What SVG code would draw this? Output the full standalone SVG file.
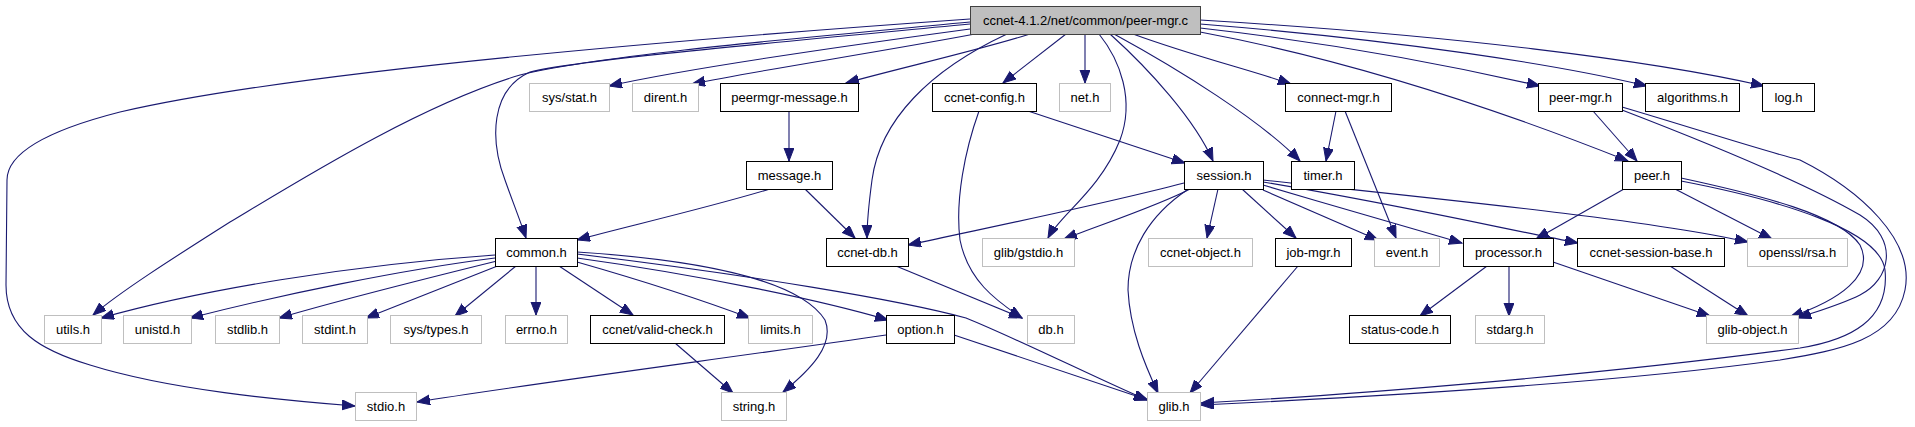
<svg xmlns="http://www.w3.org/2000/svg" width="1915" height="427" viewBox="0 0 1915 427">
<style>
rect{fill:#fff;stroke-width:1}
.d rect{stroke:#000}
.u rect{stroke:#bfbfbf}
.m rect{fill:#bfbfbf;stroke:#404040}
text{font-family:"Liberation Sans",Arial,sans-serif;font-size:13px;fill:#000;text-anchor:middle}
#edges path{fill:none;stroke:#191970;stroke-width:1.1;marker-end:url(#arr)}
</style>
<defs>
<marker id="arr" markerUnits="userSpaceOnUse" markerWidth="14" markerHeight="11" refX="13" refY="5" orient="auto">
<path d="M0,0 L13,5 L0,10 z" fill="#191970" stroke="#191970" stroke-width="1"/>
</marker>
</defs>
<rect x="0" y="0" width="1915" height="427" style="fill:#fff;stroke:none"/>
<g id="edges">
<path d="M970,19 C700,38 300,70 120,112 C30,135 7,160 7,180 L6,285 C6,330 40,350 90,365 C170,390 280,400 355,406"/>
<path d="M970,22 C800,38 600,55 520,75 C420,105 300,180 230,222 C170,260 120,292 93,315"/>
<path d="M970,24 C750,45 580,60 530,72 C490,90 490,140 505,180 C512,200 520,220 526,238"/>
<path d="M970,29 C800,52 680,70 609,86"/>
<path d="M975,34 C880,52 760,70 692,84"/>
<path d="M1030,34 C980,50 900,68 846,83"/>
<path d="M1007,34 C930,70 880,120 872,180 C868,210 867,225 867,238"/>
<path d="M1066,34 L1003,83"/>
<path d="M1085,34 L1085,83"/>
<path d="M1099,34 C1120,60 1135,100 1120,140 C1100,190 1060,215 1048,238"/>
<path d="M1110,34 C1150,70 1195,120 1213,161"/>
<path d="M1114,34 C1180,70 1260,120 1300,161"/>
<path d="M1133,34 C1190,55 1250,70 1291,84"/>
<path d="M1200,32 C1350,60 1500,110 1628,161"/>
<path d="M1200,28 C1350,45 1470,70 1540,86"/>
<path d="M1200,24 C1400,40 1560,65 1647,86"/>
<path d="M1200,20 C1450,35 1650,60 1764,86"/>
<path d="M789,111 L789,161"/>
<path d="M770,189 C700,210 620,228 577,240"/>
<path d="M805,189 L855,238"/>
<path d="M1028,111 L1185,163"/>
<path d="M979,111 C965,150 955,200 960,240 C968,280 995,300 1022,318"/>
<path d="M1336,111 L1326,161"/>
<path d="M1345,111 L1396,238"/>
<path d="M1593,111 L1637,161"/>
<path d="M1622,110 C1700,140 1800,180 1860,215 C1900,240 1890,280 1860,295 C1840,305 1815,312 1798,318"/>
<path d="M1622,107 C1700,130 1760,150 1800,160 C1860,190 1915,240 1905,290 C1895,340 1840,350 1780,360 C1600,385 1350,398 1201,405"/>
<path d="M1624,189 L1536,239"/>
<path d="M1675,189 L1772,239"/>
<path d="M1681,178 C1760,195 1840,215 1860,245 C1875,275 1840,300 1790,317"/>
<path d="M1681,181 C1780,200 1880,230 1885,270 C1890,320 1850,340 1800,348 C1600,375 1350,395 1201,403"/>
<path d="M1184,183 C1100,205 1000,225 908,245"/>
<path d="M1190,189 C1160,205 1100,225 1064,239"/>
<path d="M1187,190 C1150,215 1128,250 1128,290 C1130,330 1145,365 1158,393"/>
<path d="M1218,189 L1207,238"/>
<path d="M1242,189 L1296,238"/>
<path d="M1263,190 L1378,240"/>
<path d="M1263,185 C1330,205 1400,225 1462,243"/>
<path d="M1263,182 C1400,205 1500,228 1578,243"/>
<path d="M1263,180 C1450,200 1650,220 1748,242"/>
<path d="M495,255 C350,265 200,290 101,318"/>
<path d="M495,258 C400,270 280,295 190,318"/>
<path d="M497,261 C420,280 340,300 279,318"/>
<path d="M500,265 L366,318"/>
<path d="M516,266 L455,316"/>
<path d="M536,266 L536,315"/>
<path d="M559,266 L633,315"/>
<path d="M577,262 C640,280 710,303 750,318"/>
<path d="M577,258 C700,275 820,300 888,320"/>
<path d="M577,254 C750,275 900,300 966,318 C1020,340 1100,380 1147,400"/>
<path d="M577,252 C700,260 800,280 825,320 C835,345 810,370 783,392"/>
<path d="M896,266 L1022,318"/>
<path d="M1298,266 L1190,393"/>
<path d="M1487,266 L1420,316"/>
<path d="M1509,266 L1509,316"/>
<path d="M1553,262 L1710,316"/>
<path d="M1670,266 L1748,316"/>
<path d="M675,343 L733,393"/>
<path d="M886,335 C750,355 520,385 417,402"/>
<path d="M954,335 L1148,400"/>
</g>
<g id="n-main" class="m"><rect x="970.5" y="6.5" width="230" height="28"/><text x="1085.5" y="25">ccnet-4.1.2/net/common/peer-mgr.c</text></g>
<g id="n-sysstat" class="u"><rect x="529.5" y="83.5" width="80" height="28"/><text x="569.5" y="102">sys/stat.h</text></g>
<g id="n-dirent" class="u"><rect x="632.5" y="83.5" width="66" height="28"/><text x="665.5" y="102">dirent.h</text></g>
<g id="n-peermgrmsg" class="d"><rect x="720.5" y="83.5" width="138" height="28"/><text x="789.5" y="102">peermgr-message.h</text></g>
<g id="n-ccnetconfig" class="d"><rect x="932.5" y="83.5" width="104" height="28"/><text x="984.5" y="102">ccnet-config.h</text></g>
<g id="n-net" class="u"><rect x="1059.5" y="83.5" width="51" height="28"/><text x="1085" y="102">net.h</text></g>
<g id="n-connectmgr" class="d"><rect x="1285.5" y="83.5" width="106" height="28"/><text x="1338.5" y="102">connect-mgr.h</text></g>
<g id="n-peermgr" class="d"><rect x="1538.5" y="83.5" width="84" height="28"/><text x="1580.5" y="102">peer-mgr.h</text></g>
<g id="n-algorithms" class="d"><rect x="1645.5" y="83.5" width="94" height="28"/><text x="1692.5" y="102">algorithms.h</text></g>
<g id="n-log" class="d"><rect x="1762.5" y="83.5" width="52" height="28"/><text x="1788.5" y="102">log.h</text></g>
<g id="n-message" class="d"><rect x="746.5" y="161.5" width="86" height="28"/><text x="789.5" y="180">message.h</text></g>
<g id="n-session" class="d"><rect x="1184.5" y="161.5" width="79" height="28"/><text x="1224" y="180">session.h</text></g>
<g id="n-timer" class="d"><rect x="1291.5" y="161.5" width="63" height="28"/><text x="1323" y="180">timer.h</text></g>
<g id="n-peer" class="d"><rect x="1622.5" y="161.5" width="59" height="28"/><text x="1652" y="180">peer.h</text></g>
<g id="n-common" class="d"><rect x="495.5" y="238.5" width="82" height="28"/><text x="536.5" y="257">common.h</text></g>
<g id="n-ccnetdb" class="d"><rect x="826.5" y="238.5" width="82" height="28"/><text x="867.5" y="257">ccnet-db.h</text></g>
<g id="n-gstdio" class="u"><rect x="982.5" y="238.5" width="92" height="28"/><text x="1028.5" y="257">glib/gstdio.h</text></g>
<g id="n-ccnetobject" class="u"><rect x="1148.5" y="238.5" width="104" height="28"/><text x="1200.5" y="257">ccnet-object.h</text></g>
<g id="n-jobmgr" class="d"><rect x="1275.5" y="238.5" width="76" height="28"/><text x="1313.5" y="257">job-mgr.h</text></g>
<g id="n-event" class="u"><rect x="1374.5" y="238.5" width="65" height="28"/><text x="1407" y="257">event.h</text></g>
<g id="n-processor" class="d"><rect x="1463.5" y="238.5" width="90" height="28"/><text x="1508.5" y="257">processor.h</text></g>
<g id="n-sessionbase" class="d"><rect x="1577.5" y="238.5" width="147" height="28"/><text x="1651" y="257">ccnet-session-base.h</text></g>
<g id="n-rsa" class="u"><rect x="1747.5" y="238.5" width="100" height="28"/><text x="1797.5" y="257">openssl/rsa.h</text></g>
<g id="n-utils" class="u"><rect x="44.5" y="315.5" width="57" height="28"/><text x="73" y="334">utils.h</text></g>
<g id="n-unistd" class="u"><rect x="123.5" y="315.5" width="68" height="28"/><text x="157.5" y="334">unistd.h</text></g>
<g id="n-stdlib" class="u"><rect x="215.5" y="315.5" width="64" height="28"/><text x="247.5" y="334">stdlib.h</text></g>
<g id="n-stdint" class="u"><rect x="302.5" y="315.5" width="65" height="28"/><text x="335" y="334">stdint.h</text></g>
<g id="n-systypes" class="u"><rect x="390.5" y="315.5" width="91" height="28"/><text x="436" y="334">sys/types.h</text></g>
<g id="n-errno" class="u"><rect x="505.5" y="315.5" width="62" height="28"/><text x="536.5" y="334">errno.h</text></g>
<g id="n-validcheck" class="d"><rect x="590.5" y="315.5" width="134" height="28"/><text x="657.5" y="334">ccnet/valid-check.h</text></g>
<g id="n-limits" class="u"><rect x="748.5" y="315.5" width="64" height="28"/><text x="780.5" y="334">limits.h</text></g>
<g id="n-option" class="d"><rect x="886.5" y="315.5" width="68" height="28"/><text x="920.5" y="334">option.h</text></g>
<g id="n-db" class="u"><rect x="1027.5" y="315.5" width="47" height="28"/><text x="1051" y="334">db.h</text></g>
<g id="n-statuscode" class="d"><rect x="1349.5" y="315.5" width="101" height="28"/><text x="1400" y="334">status-code.h</text></g>
<g id="n-stdarg" class="u"><rect x="1475.5" y="315.5" width="69" height="28"/><text x="1510" y="334">stdarg.h</text></g>
<g id="n-glibobject" class="u"><rect x="1706.5" y="315.5" width="92" height="28"/><text x="1752.5" y="334">glib-object.h</text></g>
<g id="n-stdio" class="u"><rect x="355.5" y="392.5" width="61" height="28"/><text x="386" y="411">stdio.h</text></g>
<g id="n-string" class="u"><rect x="721.5" y="392.5" width="65" height="28"/><text x="754" y="411">string.h</text></g>
<g id="n-glib" class="u"><rect x="1147.5" y="392.5" width="53" height="28"/><text x="1174" y="411">glib.h</text></g>
</svg>
